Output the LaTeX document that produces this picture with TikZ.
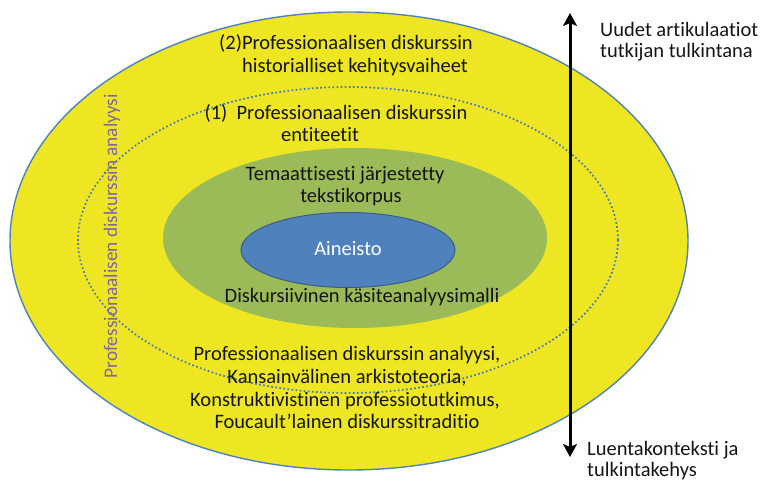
\documentclass[tikz,border=0pt]{standalone}
\usepackage{fontspec}
\setmainfont{Carlito}[Ligatures=NoCommon]
\usetikzlibrary{arrows.meta}
\definecolor{ringyellow}{RGB}{238,230,34}
\definecolor{ringgreen}{RGB}{155,187,89}
\definecolor{coreblue}{RGB}{79,129,189}
\definecolor{coreedge}{RGB}{56,93,138}
\definecolor{dotblue}{RGB}{70,120,180}
\definecolor{sidepurple}{RGB}{128,100,170}
\definecolor{txt}{RGB}{20,20,20}
\tikzset{
  lbl/.style={font=\fontsize{20.5}{24}\selectfont, text=txt, inner sep=0pt,
              text height=14pt, text depth=4pt},
  side/.style={lbl, anchor=west},
}
\begin{document}
\begin{tikzpicture}[x=1pt,y=-1pt]
\useasboundingbox (0,0) rectangle (765,481);
% nested ellipses
\draw[coreblue, line width=1.4pt, fill=ringyellow] (349,241) ellipse [x radius=339, y radius=229];
\draw[dotblue, line width=1.7pt, dash pattern=on 1.7pt off 2.4pt] (348,240) ellipse [x radius=270, y radius=153];
\fill[ringgreen] (355,238) ellipse [x radius=192, y radius=90];
\draw[coreedge, line width=1pt, fill=coreblue] (348,250) ellipse [x radius=107, y radius=37.5];
% outer ring texts
\node[lbl] (t2a) at (346,45) {(2)Professionaalisen diskurssin};
\node[lbl] (t2b) at (355,68) {historialliset kehitysvaiheet};
\node[lbl] (t1a) at (336,115) {(1)\ \ Professionaalisen diskurssin};
\node[lbl] (t1b) at (320,137) {entiteetit};
% green ring texts
\node[lbl] (tga) at (345,176) {Temaattisesti järjestetty};
\node[lbl] (tgb) at (351,198) {tekstikorpus};
\node[lbl, text=white] (core) at (348,250) {Aineisto};
\node[lbl] (tgc) at (362,297) {Diskursiivinen käsiteanalyysimalli};
% theory lines
\node[lbl] (th1) at (347,355) {Professionaalisen diskurssin analyysi,};
\node[lbl] (th2) at (347,378) {Kansainvälinen arkistoteoria,};
\node[lbl] (th3) at (345,401) {Konstruktivistinen professiotutkimus,};
\node[lbl] (th4) at (347,423) {Foucault’lainen diskurssitraditio};
% vertical label
\node[lbl, text=sidepurple, font=\fontsize{19.3}{23}\selectfont, rotate=90] (vert) at (112,236) {Professionaalisen diskurssin analyysi};
% axis arrow
\coordinate (atop) at (570,13);
\coordinate (abot) at (570,457);
\draw[line width=3pt, {Stealth[length=13pt,width=14pt,inset=3pt]}-{Stealth[length=13pt,width=14pt,inset=3pt]}] (abot) -- (atop);
\node[side] (u1) at (600,32) {Uudet artikulaatiot};
\node[side] (u2) at (600,53) {tutkijan tulkintana};
\node[side] (l1) at (587,450) {Luentakonteksti ja};
\node[side] (l2) at (587,471) {tulkintakehys};
\end{tikzpicture}
\end{document}
